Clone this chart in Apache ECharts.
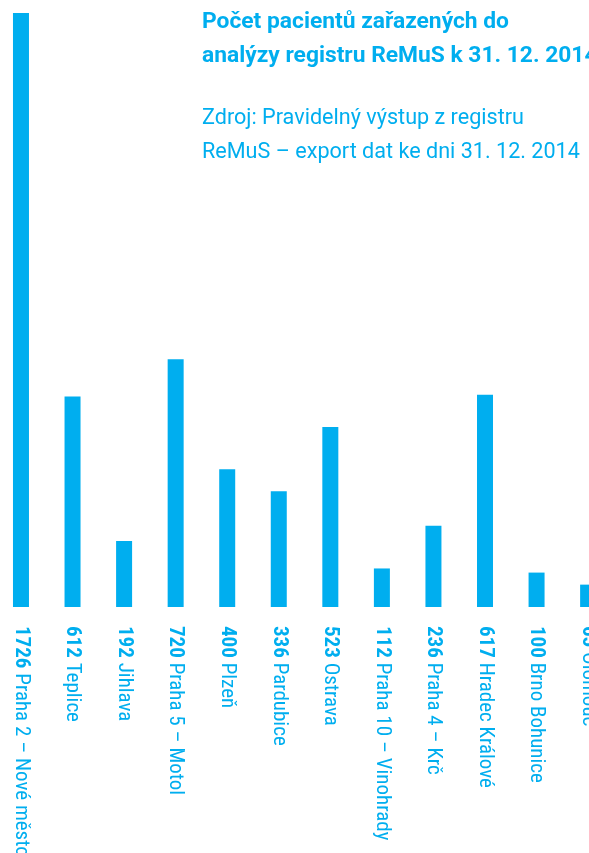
<!DOCTYPE html>
<html>
<head>
<meta charset="utf-8">
<script src="https://cdn.jsdelivr.net/npm/echarts@6/dist/echarts.min.js"></script>
<style>
html,body{margin:0;padding:0;background:#fff;}
#c{width:589px;height:853px;}
</style>
</head>
<body>
<div id="c"></div>
<script>
const categories = ['Praha 2 – Nové město','Teplice','Jihlava','Praha 5 – Motol','Plzeň','Pardubice','Ostrava','Praha 10 – Vinohrady','Praha 4 – Krč','Hradec Králové','Brno Bohunice','Olomouc'];
const values = [1726, 612, 192, 720, 400, 336, 523, 112, 236, 617, 100, 65];
const titleLines = ['Počet pacientů zařazených do','analýzy registru ReMuS k 31. 12. 2014'];
const sourceLines = ['Zdroj: Pravidelný výstup z registru','ReMuS – export dat ke dni 31. 12. 2014'];

const FONT = "'Liberation Sans Narrow', 'Roboto Condensed', 'DejaVu Sans Condensed', Roboto, sans-serif";
const TFONT = "Roboto, 'Noto Sans', sans-serif";
const COLOR = '#00AEEF';

const chart = echarts.init(document.getElementById('c'), null, {renderer:'canvas'});
chart.setOption({
  animation: false,
  backgroundColor: '#fff',
  title: [
    {
      text: titleLines.join('\n'),
      left: 202, top: 6, padding: 0,
      textStyle: {fontFamily: TFONT, fontSize: 22.8, fontWeight: 'bold', color: COLOR, lineHeight: 33.5}
    },
    {
      text: sourceLines.join('\n'),
      left: 202, top: 102, padding: 0,
      textStyle: {fontFamily: TFONT, fontSize: 21.6, fontWeight: 'normal', color: COLOR, lineHeight: 34}
    }
  ],
  grid: {left: -4.8, top: 13, width: 618.7, height: 594, containLabel: false, outerBoundsMode: 'none'},
  xAxis: {
    type: 'category',
    data: categories,
    axisLine: {show: false},
    axisTick: {show: false},
    axisLabel: {
      interval: 0,
      rotate: -90,
      margin: 19,
      hideOverlap: false,
      color: COLOR,
      fontFamily: FONT,
      fontSize: 21,
      formatter: function (name, idx) {
        return '{v|' + values[idx] + '} {n|' + name + '}';
      },
      rich: {
        v: {fontFamily: FONT, fontSize: 21, fontWeight: 'bold', color: COLOR},
        n: {fontFamily: FONT, fontSize: 21, fontWeight: 'normal', color: COLOR}
      }
    }
  },
  yAxis: {
    type: 'value', min: 0, max: 1726,
    show: false,
    splitLine: {show: false}
  },
  series: [{
    type: 'bar',
    data: values,
    barWidth: 16,
    itemStyle: {color: COLOR}
  }]
});
</script>
</body>
</html>
